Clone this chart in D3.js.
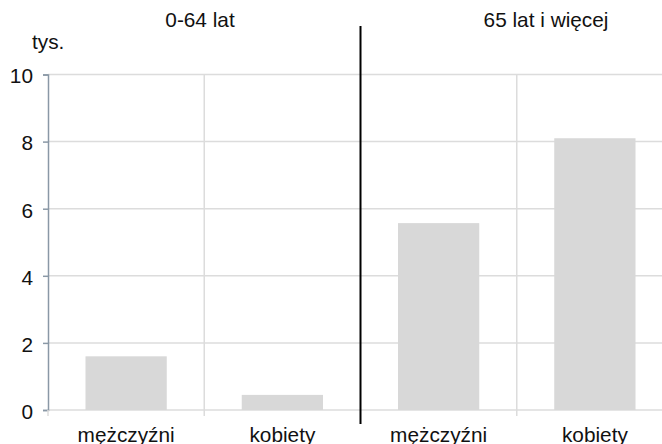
<!DOCTYPE html>
<html><head><meta charset="utf-8">
<script src="https://cdn.jsdelivr.net/npm/d3@7"></script>
<style>body{margin:0;background:#fff}svg{display:block}text{font-family:"Liberation Sans",Arial,sans-serif}</style>
</head><body><svg id="c" width="662" height="444"></svg>
<script>
const groups = ["0-64 lat", "65 lat i więcej"];
const categories = ["mężczyźni", "kobiety", "mężczyźni", "kobiety"];
const values = [1.6, 0.45, 5.57, 8.1];
const yTicks = [0, 2, 4, 6, 8, 10];
const unitLabel = "tys.";

(function () {
const svg = d3.select("#c");
const pL = 48, pR = 673, pT = 74.5, pB = 410;
const keys = categories.map((c, i) => i);
const x = d3.scaleBand().domain(keys).range([pL, pR]).padding(0);
const y = d3.scaleLinear().domain([0, 10]).range([pB, pT]);
const fs = "20.8px";

// horizontal gridlines
svg.append("g").selectAll("line").data(yTicks).join("line")
  .attr("x1", pL).attr("x2", pR)
  .attr("y1", d => y(d)).attr("y2", d => y(d))
  .attr("stroke", "#dcdcdc").attr("stroke-width", 1.5);

// vertical gridlines at band boundaries (except group divider)
const bounds = [1, 3].map(i => x(i));
svg.append("g").selectAll("line").data(bounds).join("line")
  .attr("x1", d => d).attr("x2", d => d)
  .attr("y1", pT).attr("y2", pB + 6)
  .attr("stroke", "#dcdcdc").attr("stroke-width", 1.5);

// bars
const bw = x.bandwidth() * 0.52;
svg.append("g").selectAll("rect").data(values).join("rect")
  .attr("x", (d, i) => x(i) + (x.bandwidth() - bw) / 2)
  .attr("width", bw)
  .attr("y", d => y(d))
  .attr("height", d => y(0) - y(d))
  .attr("fill", "#d8d8d8");

// y axis
const ya = svg.append("g").attr("transform", `translate(${pL},0)`)
  .call(d3.axisLeft(y).tickValues(yTicks).tickSize(5).tickPadding(10));
ya.select(".domain").attr("stroke", "#8a98a6").attr("stroke-width", 1.5);
ya.selectAll(".tick line").attr("stroke", "#8a98a6").attr("stroke-width", 1.5);
ya.selectAll(".tick text").attr("font-size", fs).attr("fill", "#111").attr("dy", "0.4em")
  .attr("font-family", "Liberation Sans, Arial, sans-serif");

// x axis labels
const xa = svg.append("g").attr("transform", `translate(0,${pB})`)
  .call(d3.axisBottom(x).tickFormat(i => categories[i]).tickSize(0).tickPadding(17.5));
xa.select(".domain").remove();
xa.selectAll(".tick text").attr("font-size", fs).attr("fill", "#111")
  .attr("font-family", "Liberation Sans, Arial, sans-serif");
svg.append("line").attr("x1", pL).attr("x2", pL).attr("y1", pB).attr("y2", pB + 6)
  .attr("stroke", "#dcdcdc").attr("stroke-width", 1.5);

// group divider
svg.append("line").attr("x1", x(2)).attr("x2", x(2)).attr("y1", 26).attr("y2", 424)
  .attr("stroke", "#000").attr("stroke-width", 2);

// group titles
svg.append("g").selectAll("text").data(groups).join("text")
  .attr("x", (d, i) => [200, 546][i]).attr("y", 27)
  .attr("text-anchor", "middle").attr("font-size", fs).attr("fill", "#111")
  .text(d => d);

// unit label
svg.append("text").attr("x", 32).attr("y", 49).attr("font-size", fs).attr("fill", "#111").text(unitLabel);
})();
</script></body></html>
